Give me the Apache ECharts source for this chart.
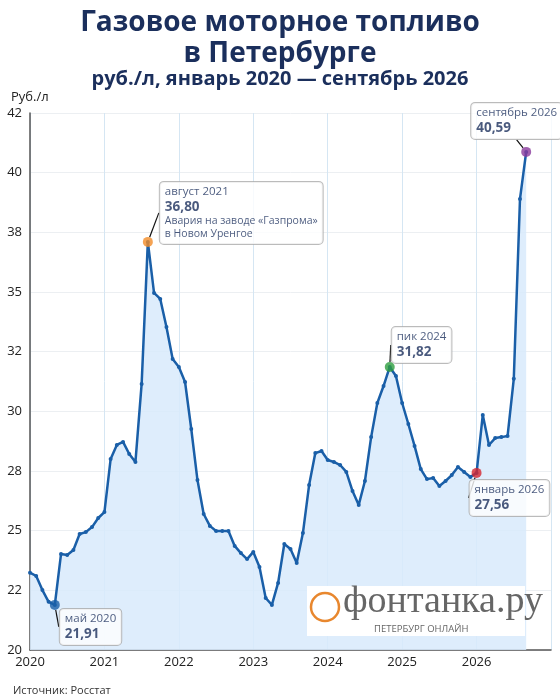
<!DOCTYPE html>
<html><head><meta charset="utf-8">
<script src="https://cdn.jsdelivr.net/npm/echarts@6/dist/echarts.min.js"></script>
<style>html,body{margin:0;padding:0;background:#fff}#c{width:560px;height:700px}</style>
</head><body><div id="c"></div>
<script>
const yearLabels = ['2020','2021','2022','2023','2024','2025','2026'];
const yTickValues = [20,22.5,25,27.5,30,32.5,35,37.5,40,42.5];
const yTickLabels = ['20','22','25','28','30','32','35','38','40','42'];
const prices = [
 23.24,23.10,22.51,22.02,21.89,24.02,23.98,24.19,24.86,24.94,25.15,25.53,
 25.78,28.00,28.59,28.72,28.21,27.88,31.15,37.10,34.96,34.71,33.53,32.19,
 31.86,31.23,29.26,27.12,25.70,25.20,24.99,24.99,24.99,24.36,24.06,23.81,
 24.11,23.48,22.18,21.89,22.81,24.44,24.23,23.65,24.90,26.91,28.25,28.34,
 27.96,27.88,27.75,27.46,26.66,26.08,27.08,28.92,30.35,31.06,31.86,31.48,
 30.35,29.47,28.55,27.58,27.16,27.21,26.87,27.08,27.33,27.67,27.46,27.25,
 27.42,29.85,28.59,28.88,28.92,28.97,31.36,38.90,40.87
];
const notes = [
 {m:4,  color:'#1a5fa8', title:'май 2020', value:'21,91', extra:'', dx:5, dy:22},
 {m:19, color:'#f28c28', title:'август 2021', value:'36,80', extra:'Авария на заводе «Газпрома»\nв Новом Уренгое', dx:12, dy:-29},
 {m:58, color:'#2e9e3e', title:'пик 2024', value:'31,82', extra:'', dx:2, dy:-22},
 {m:72, color:'#d6262f', title:'январь 2026', value:'27,56', extra:'', dx:-7, dy:25},
 {m:80, color:'#8a3a9c', title:'сентябрь 2026', value:'40,59', extra:'', dx:-55, dy:-31}
];
const navy='#1b2f5c', lineC='#1a5fa8';
const chart = echarts.init(document.getElementById('c'));
chart.setOption({
 animation:false,
 title:[
  {text:'Газовое моторное топливо\nв Петербурге',left:'center',top:3,textStyle:{fontFamily:'Open Sans',fontSize:28,fontWeight:'bold',color:navy,lineHeight:31}},
  {text:'руб./л, январь 2020 — сентябрь 2026',left:'center',top:64,textStyle:{fontFamily:'Open Sans',fontSize:20,fontWeight:'bold',color:navy}},
  {text:'Руб./л',left:6,top:86,textStyle:{fontFamily:'Open Sans',fontSize:13,fontWeight:'normal',color:'#222'}},
  {text:'Источник: Росстат',left:8,top:680,textStyle:{fontFamily:'Open Sans',fontSize:11,fontWeight:'normal',color:'#333'}}
 ],
 grid:{left:30,right:9,top:113,bottom:50},
 xAxis:{type:'value',min:0,max:84,interval:12,
  axisLine:{lineStyle:{color:'#555',width:1.5}},axisTick:{show:false},
  axisLabel:{fontFamily:'Open Sans',fontSize:13,color:'#222',margin:6,
   formatter:v=>yearLabels[v/12]||''},
  splitLine:{show:true,lineStyle:{color:'#d5e6f3'}}},
 yAxis:{type:'value',min:20,max:42.5,interval:2.5,
  axisLine:{show:true,lineStyle:{color:'#555',width:1.5}},axisTick:{show:false},
  axisLabel:{fontFamily:'Open Sans',fontSize:13,color:'#222',margin:8,
   formatter:v=>yTickLabels[yTickValues.indexOf(v)]},
  splitLine:{lineStyle:{color:'#eceff2'}}},
 series:[
  {type:'line',data:prices.map((p,i)=>[i,p]),symbol:'circle',symbolSize:4,
   lineStyle:{color:lineC,width:2.5},itemStyle:{color:lineC},
   areaStyle:{color:'#d8eafb',opacity:0.85}},
  {type:'scatter',symbolSize:10,z:5,
   data:notes.map(n=>({value:[n.m,prices[n.m]],itemStyle:{color:n.color},n:n})),
   label:{show:true,position:'inside',backgroundColor:'#fff',borderColor:'#aaa',borderWidth:1,borderRadius:4,padding:[3,5],
    align:'left',
    formatter:p=>{const n=p.data.n;return '{t|'+n.title+'}\n{v|'+n.value+'}'+(n.extra?'\n{e|'+n.extra.split('\n').join('}\n{e|')+'}':'');},
    rich:{t:{fontFamily:'Open Sans',fontSize:11.5,color:navy,lineHeight:14},
          v:{fontFamily:'Open Sans',fontSize:13.5,fontWeight:'bold',color:navy,lineHeight:16},
          e:{fontFamily:'Open Sans',fontSize:10.5,color:navy,lineHeight:13}}},
   labelLayout:p=>{const n=notes[p.dataIndex];return {dx:n.dx,dy:n.dy};},
   labelLine:{show:true,lineStyle:{color:'#111',width:1.2}}}
 ],
 graphic:[
  {type:'rect',shape:{x:307,y:586,width:218,height:50},style:{fill:'#fff'},z:10},
  {type:'circle',shape:{cx:325,cy:607,r:14},style:{fill:'none',stroke:'#e8872e',lineWidth:2.5},z:11},
  {type:'text',left:343,top:583,style:{text:'фонтанка.ру',fontFamily:'Liberation Serif',fontSize:38,fill:'#666'},z:11},
  {type:'text',left:374,top:624,style:{text:'ПЕТЕРБУРГ ОНЛАЙН',fontFamily:'Open Sans',fontSize:9.5,fill:'#666'},z:11}
 ]
});
</script></body></html>
